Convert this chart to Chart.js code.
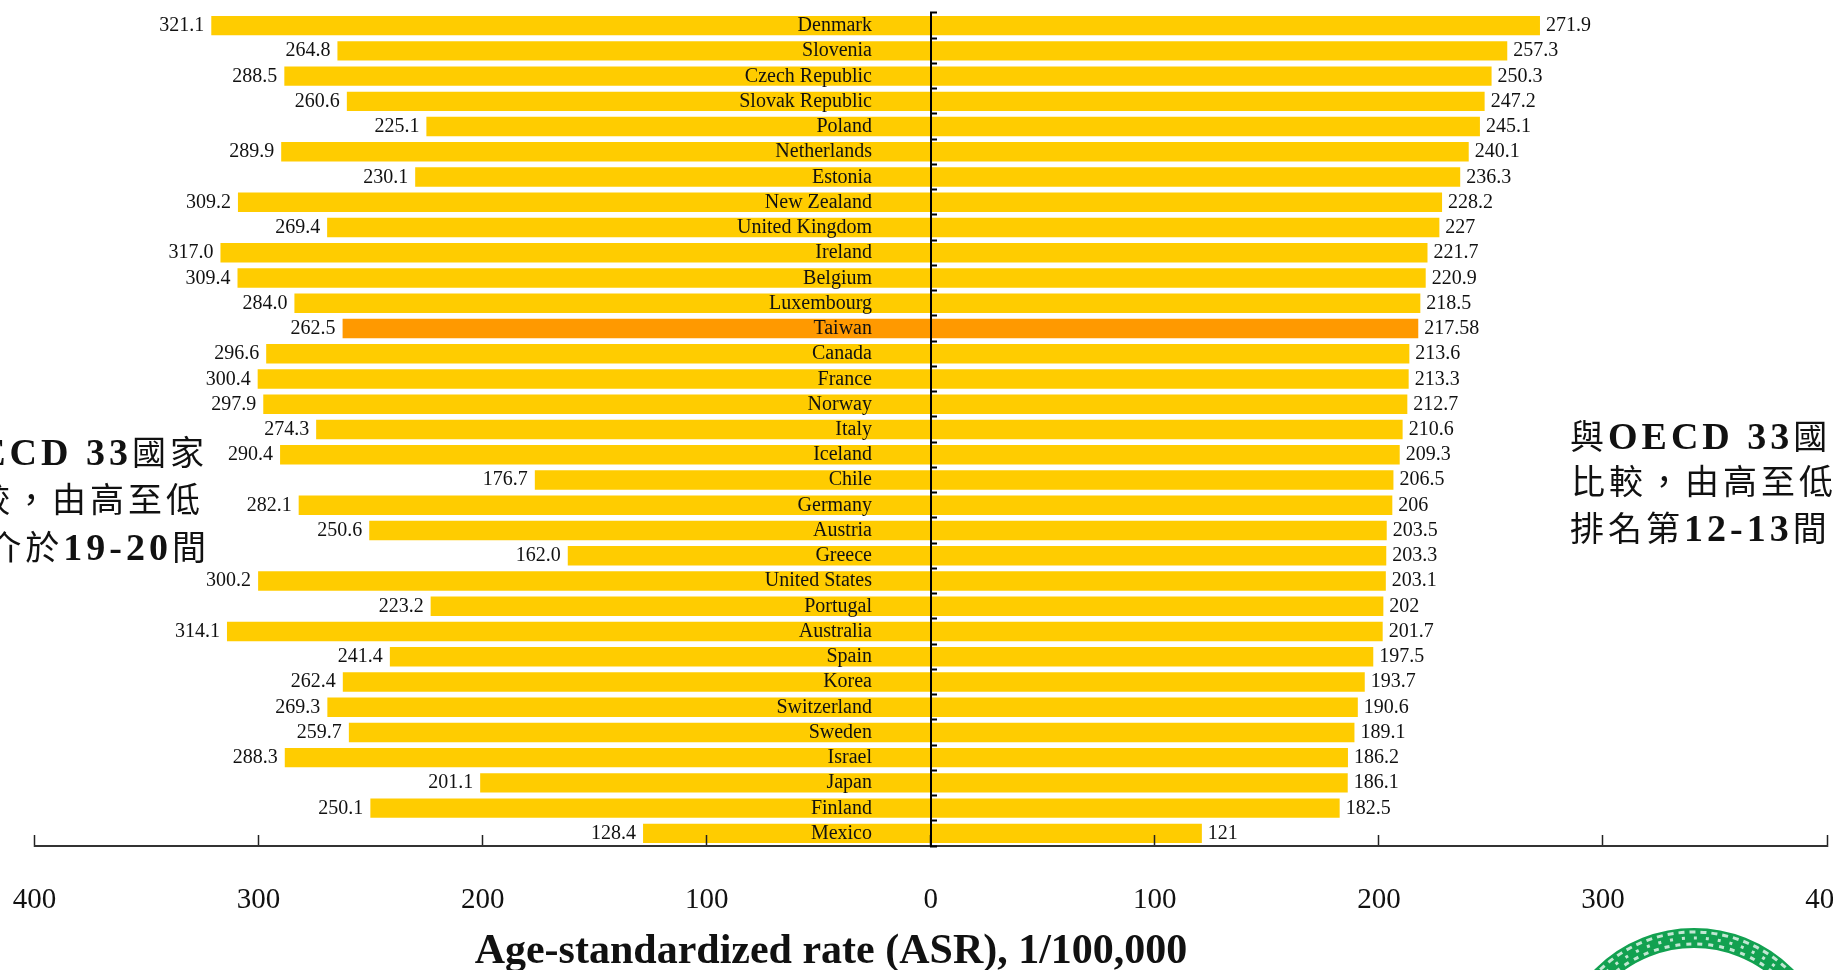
<!DOCTYPE html>
<html lang="zh-Hant">
<head>
<meta charset="UTF-8">
<title>Age-standardized rate, OECD 33</title>
<script src="https://cdn.jsdelivr.net/npm/chart.js"></script>
<style>
    html, body { margin: 0; background: #fff; overflow: hidden; }
    canvas { display: block; }
</style>
</head>
<body>
<canvas id="asrChart" width="1833" height="970"></canvas>
<script>
// 由高至低排序的國家
const countries = ['Denmark', 'Slovenia', 'Czech Republic', 'Slovak Republic', 'Poland', 'Netherlands', 'Estonia',
    'New Zealand', 'United Kingdom', 'Ireland', 'Belgium', 'Luxembourg', 'Taiwan', 'Canada', 'France', 'Norway',
    'Italy', 'Iceland', 'Chile', 'Germany', 'Austria', 'Greece', 'United States', 'Portugal', 'Australia', 'Spain',
    'Korea', 'Switzerland', 'Sweden', 'Israel', 'Japan', 'Finland', 'Mexico'];
const leftRates = [321.1, 264.8, 288.5, 260.6, 225.1, 289.9, 230.1, 309.2, 269.4, 317.0, 309.4, 284.0, 262.5, 296.6,
    300.4, 297.9, 274.3, 290.4, 176.7, 282.1, 250.6, 162.0, 300.2, 223.2, 314.1, 241.4, 262.4, 269.3, 259.7, 288.3,
    201.1, 250.1, 128.4];
const rightRates = [271.9, 257.3, 250.3, 247.2, 245.1, 240.1, 236.3, 228.2, 227, 221.7, 220.9, 218.5, 217.58, 213.6,
    213.3, 212.7, 210.6, 209.3, 206.5, 206, 203.5, 203.3, 203.1, 202, 201.7, 197.5, 193.7, 190.6, 189.1, 186.2,
    186.1, 182.5, 121];
const axisTitle = 'Age-standardized rate (ASR), 1/100,000';

const SERIF = '"Liberation Serif", serif';
const CJK = '"Noto Sans CJK TC", sans-serif';
const barColors = countries.map(c => c === 'Taiwan' ? '#ff9900' : '#ffcc00');

// 一行中英混排的文字，anchor 為 right 時 x 是行尾
function drawRuns(ctx, runs, x, y, anchor) {
    const fontFor = r => r[1] === 'cjk' ? `34px ${CJK}` : `bold 38px ${SERIF}`;
    ctx.textAlign = 'left';
    ctx.textBaseline = 'alphabetic';
    ctx.letterSpacing = '4px';
    let total = 0;
    runs.forEach(r => { ctx.font = fontFor(r); total += ctx.measureText(r[0]).width; });
    let cur = anchor === 'right' ? x - total : x;
    runs.forEach(r => {
        ctx.font = fontFor(r);
        ctx.fillText(r[0], cur, y);
        cur += ctx.measureText(r[0]).width;
    });
    ctx.letterSpacing = '0px';
}

// 國名、數值標籤、註解文字與標題
const textPlugin = {
    id: 'textPlugin',
    afterDraw(chart) {
        const { ctx } = chart;
        const xs = chart.scales.x, ys = chart.scales.y;
        ctx.save();
        ctx.fillStyle = '#111';
        ctx.textBaseline = 'alphabetic';
        ctx.font = `20px ${SERIF}`;
        countries.forEach((name, i) => {
            const y = ys.getPixelForValue(i) + 5.5;
            ctx.textAlign = 'right';
            ctx.fillText(name, 872, y);
            ctx.fillText(leftRates[i].toFixed(1), xs.getPixelForValue(-leftRates[i]) - 7, y);
            ctx.textAlign = 'left';
            ctx.fillText(String(rightRates[i]), xs.getPixelForValue(rightRates[i]) + 6, y);
        });

        ctx.textAlign = 'center';
        ctx.font = `bold 42px ${SERIF}`;
        ctx.fillText(axisTitle, 831, 963);

        drawRuns(ctx, [['與', 'cjk'], ['OECD 33', 'latin'], ['國家', 'cjk']], 208, 465, 'right');
        drawRuns(ctx, [['比較，由高至低', 'cjk']], 204, 512, 'right');
        drawRuns(ctx, [['排名介於', 'cjk'], ['19-20', 'latin'], ['間', 'cjk']], 210, 560, 'right');
        drawRuns(ctx, [['與', 'cjk'], ['OECD 33', 'latin'], ['國家', 'cjk']], 1570, 449);
        drawRuns(ctx, [['比較，由高至低', 'cjk']], 1571, 494);
        drawRuns(ctx, [['排名第', 'cjk'], ['12-13', 'latin'], ['間', 'cjk']], 1570, 541);

        // 右下角的綠色印記
        ctx.beginPath();
        ctx.arc(1694, 1068, 130, Math.PI, 2 * Math.PI);
        ctx.strokeStyle = '#12a150';
        ctx.lineWidth = 20;
        ctx.stroke();
        ctx.strokeStyle = 'rgba(255,255,255,0.75)';
        ctx.lineWidth = 3;
        [[124, [5, 6]], [130, [3, 9]], [136, [6, 5]]].forEach(([r, dash]) => {
            ctx.beginPath();
            ctx.setLineDash(dash);
            ctx.arc(1694, 1068, r, Math.PI, 2 * Math.PI);
            ctx.stroke();
        });
        ctx.restore();
    }
};

new Chart(document.getElementById('asrChart').getContext('2d'), {
    type: 'bar',
    data: {
        labels: countries,
        datasets: [
            { label: 'Left', data: leftRates.map(v => -v), backgroundColor: barColors },
            { label: 'Right', data: rightRates, backgroundColor: barColors }
        ]
    },
    options: {
        indexAxis: 'y',
        responsive: false,
        animation: false,
        layout: { padding: { left: 34.5, right: 6, top: 13, bottom: 0 } },
        datasets: { bar: { categoryPercentage: 1, barPercentage: 0.77 } },
        plugins: { legend: { display: false }, tooltip: { enabled: false } },
        scales: {
            x: {
                stacked: true,
                min: -400,
                max: 400,
                // 軸的高度固定，標籤超出畫布時直接裁切
                afterFit(scale) {
                    scale.paddingLeft = 0;
                    scale.paddingRight = 0;
                    scale.height = 124;
                },
                border: { color: '#333', width: 2, z: 1 },
                grid: { drawOnChartArea: false, tickLength: -11, tickColor: '#222', tickWidth: 1.5, z: 1 },
                ticks: {
                    stepSize: 100,
                    padding: 48,
                    autoSkip: false,
                    maxRotation: 0,
                    color: '#111',
                    font: { family: SERIF, size: 29 },
                    callback: v => Math.abs(v)
                }
            },
            y: {
                stacked: true,
                position: { x: 0 },
                border: { color: '#000', width: 2, z: 1 },
                grid: { drawOnChartArea: false, tickLength: -7, tickColor: '#000', tickWidth: 2, z: 1 },
                ticks: { display: false }
            }
        }
    },
    plugins: [textPlugin]
});
</script>
</body>
</html>
